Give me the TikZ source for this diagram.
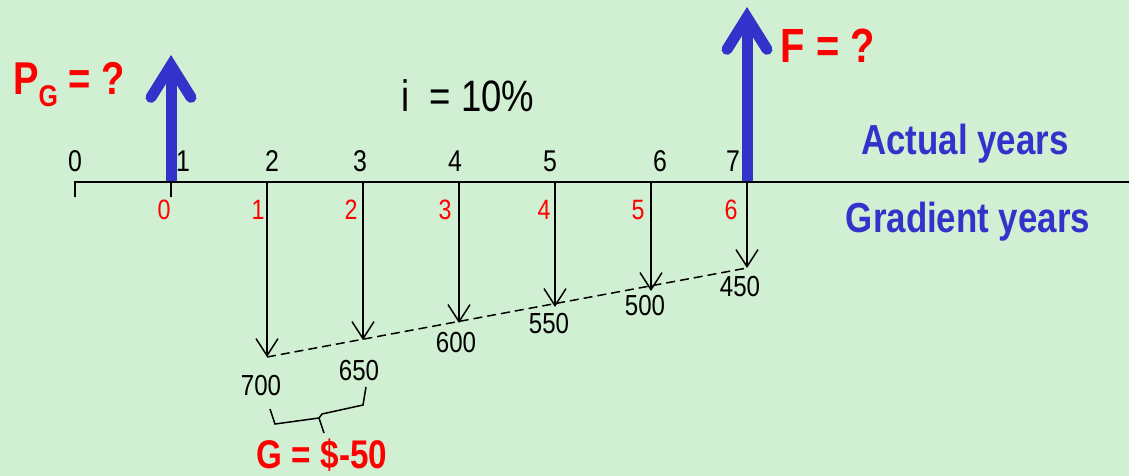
\documentclass[tikz,border=0pt]{standalone}
\usepackage{fontspec}
\setmainfont[FakeStretch=0.83]{Liberation Sans}
\usetikzlibrary{positioning,arrows.meta,calc}
\definecolor{bgpanel}{RGB}{209,239,210}
\definecolor{cashblue}{RGB}{51,51,204}
\definecolor{gradred}{RGB}{255,0,0}

\tikzset{
  axisline/.style={line width=2.8pt},
  cashout/.style={line width=1.5pt,
    -{Straight Barb[length=17pt,width=22pt,line width=1.5pt]}},
  cashin/.style={draw=cashblue, line width=11pt,
    -{Straight Barb[length=32pt,width=40pt,line cap=round,line join=miter]}},
  trend/.style={line width=1.5pt, dash pattern=on 9pt off 5pt},
  yearlbl/.style={font=\fontsize{30}{32}\selectfont, inner sep=0pt},
  gradlbl/.style={font=\fontsize{28}{30}\selectfont, text=gradred, inner sep=0pt},
  amtlbl/.style={font=\fontsize{29}{31}\selectfont, inner sep=0pt},
  bigred/.style={font=\fontsize{46}{48}\selectfont\bfseries, text=gradred, inner sep=0pt},
  bluetag/.style={font=\fontsize{42}{44}\selectfont\bfseries, text=cashblue, inner sep=0pt},
}

\begin{document}
\begin{tikzpicture}[x=1pt,y=-1pt]
  % panel
  \fill[bgpanel] (0,0) rectangle (1129,476);
  \useasboundingbox (0,0) rectangle (1129,476);

  % unknowns P_G and F
  \coordinate (pgbase) at (171,181);
  \coordinate (pgtip) at (171,55);
  \coordinate (fbase) at (747,181);
  \coordinate (ftip) at (747,7);
  \draw[cashin] (pgbase) -- (pgtip);
  \draw[cashin] (fbase) -- (ftip);

  % time axis
  \coordinate (axfoot) at (75,197);
  \coordinate (axstart) at (75,182);
  \coordinate (axend) at (1129,182);
  \coordinate (pgfoot) at (171,197);
  \coordinate (pgaxis) at (171,182);
  \draw[axisline] (axfoot) -- (axstart) -- (axend);
  \draw[axisline] (pgaxis) -- (pgfoot);

  % year numbers
  \foreach \n/\xx in {0/75,1/183,2/272,3/360,4/455,5/550,6/660,7/733}
    \node[yearlbl] (yr\n) at (\xx,161) {\n};
  \foreach \n/\xx in {0/164,1/258,2/351,3/445,4/544,5/638,6/731}
    \node[gradlbl] (gy\n) at (\xx,210) {\n};

  % gradient cash flows
  \foreach \k/\yy in {1/357,2/340,3/323,4/307,5/291,6/268} {
    \coordinate (top\k) at ({171+96*\k},182);
    \coordinate (tip\k) at ({171+96*\k},\yy);
    \draw[cashout] (top\k) -- (tip\k);
  }
  \draw[trend] (tip1) -- (tip6);

  \node[amtlbl] (a700) at (261,386) {700};
  \node[amtlbl] (a650) at (359,371) {650};
  \node[amtlbl] (a600) at (456,343) {600};
  \node[amtlbl] (a550) at (549,324) {550};
  \node[amtlbl] (a500) at (645,306) {500};
  \node[amtlbl] (a450) at (740,287) {450};

  % brace for G
  \coordinate (brl) at (270,409);
  \coordinate (brr) at (366,387);
  \coordinate (brmid) at (319,418);
  \coordinate (brtip) at (324,433);
  \draw[line width=1.5pt] (brl) -- (275,424) -- (brmid) -- (322,414)
    -- (363,405) -- (brr);
  \draw[line width=1.5pt] (brmid) -- (brtip);

  % texts
  \node[bigred, anchor=base west] (pg) at (13,95)
    {P{\fontsize{30}{30}\selectfont\raisebox{-12pt}{G}} = ?};
  \node[bigred, font=\fontsize{48}{50}\selectfont\bfseries, anchor=base]
    (f) at (828,63) {F = ?};
  \node[font=\fontsize{44}{46}\selectfont, inner sep=0pt, anchor=base]
    (rate) at (468,112) {i~~= 10\%};
  \node[bluetag, anchor=base] (actual) at (965,154) {Actual years};
  \node[bluetag, anchor=base] (gradient) at (968,232) {Gradient years};
  \node[bigred, font=\fontsize{40}{42}\selectfont\bfseries, anchor=base]
    (gval) at (322,468) {G = \$-50};
\end{tikzpicture}
\end{document}
